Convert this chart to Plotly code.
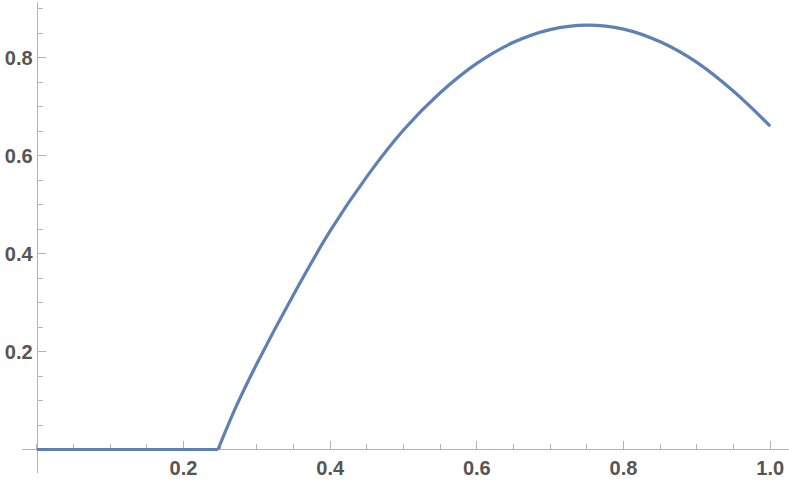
import plotly.graph_objects as go

# values
flat_x = [0.0, 0.247]
flat_y = [0.0, 0.0]

curve_x = [0.247, 0.2725, 0.3, 0.35, 0.4, 0.45, 0.5, 0.55, 0.6, 0.65,
           0.7, 0.75, 0.8, 0.85, 0.9, 0.95, 1.0]
curve_y = [0.0, 0.09, 0.175, 0.316, 0.446, 0.557, 0.652, 0.728, 0.788, 0.831,
           0.857, 0.866, 0.858, 0.832, 0.79, 0.731, 0.66]

x_ticks = [0.2, 0.4, 0.6, 0.8, 1.0]
x_labels = ["0.2", "0.4", "0.6", "0.8", "1.0"]
y_ticks = [0.2, 0.4, 0.6, 0.8]
y_labels = ["0.2", "0.4", "0.6", "0.8"]

line_color = "#5E81B5"
axis_color = "#b3b3b3"
label_font = dict(family="Liberation Sans", size=20, color="#555555", weight="bold")

x_range = [-0.02018, 1.02564]
y_range = [-0.04796, 0.91327]

fig = go.Figure()
fig.add_trace(go.Scatter(x=flat_x, y=flat_y, mode='lines',
                         line=dict(color=line_color, width=3.2)))
fig.add_trace(go.Scatter(x=curve_x, y=curve_y, mode='lines',
                         line=dict(color=line_color, width=3.2, shape='spline', smoothing=1.0)))

fig.update_layout(
    width=789,
    height=487,
    autosize=False,
    margin=dict(l=22, r=0, t=2, b=14, pad=0),
    plot_bgcolor="white",
    paper_bgcolor="white",
    showlegend=False,
    xaxis=dict(
        range=x_range, anchor="free",
        position=(0 - y_range[0]) / (y_range[1] - y_range[0]),
        showgrid=False, zeroline=False, layer="below traces",
        showline=True, linecolor=axis_color, linewidth=1.3,
        tickmode="array", tickvals=x_ticks, ticktext=x_labels,
        ticks="inside", ticklen=8, tickwidth=1, tickcolor=axis_color,
        minor=dict(ticks="inside", dtick=0.05, tick0=0, ticklen=5,
                   tickcolor=axis_color, tickwidth=1, showgrid=False),
        tickfont=label_font, automargin=False,
    ),
    yaxis=dict(
        range=y_range, anchor="free",
        position=(0 - x_range[0]) / (x_range[1] - x_range[0]),
        showgrid=False, zeroline=False, layer="below traces",
        showline=True, linecolor=axis_color, linewidth=1.3,
        tickmode="array", tickvals=y_ticks, ticktext=y_labels,
        ticks="inside", ticklen=8, tickwidth=1, tickcolor=axis_color,
        minor=dict(ticks="inside", dtick=0.05, tick0=0, ticklen=5,
                   tickcolor=axis_color, tickwidth=1, showgrid=False),
        tickfont=label_font, automargin=False,
    ),
)

# page body has a default 8px margin; drop it so the figure sits at the corner
fig.write_html("out.html", config={"displayModeBar": False},
               post_script="document.body.style.margin='0';")
